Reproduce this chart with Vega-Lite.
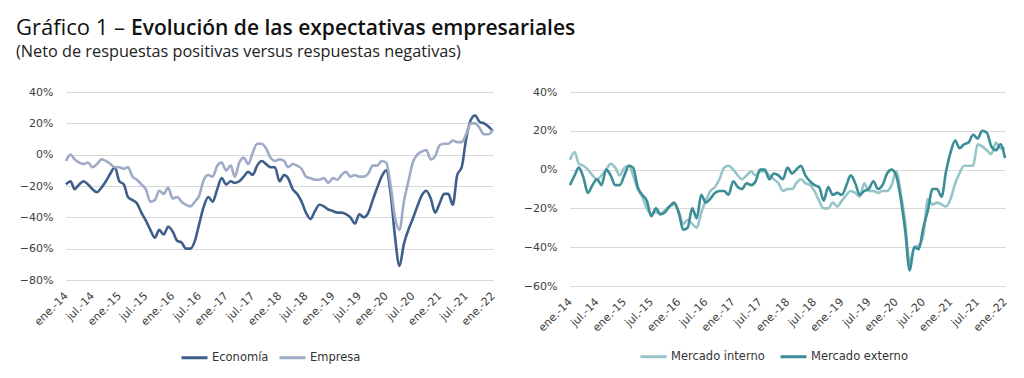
{
"$schema": "https://vega.github.io/schema/vega-lite/v6.json",
"background": "white",
"padding": {"left": 14, "top": 16, "right": 5, "bottom": 5},
"title": {"text": "Evolución de las expectativas empresariales", "anchor": "start", "frame": "bounds", "font": "Open Sans", "fontSize": 21, "fontWeight": 600, "color": "#111111", "offset": 0, "dx": 117, "dy": 22},
"datasets": {"d": [
{"fecha":"2014-01-01","Economía":-19,"Empresa":-4,"Mercado interno":5,"Mercado externo":-8},
{"fecha":"2014-02-01","Economía":-17,"Empresa":0,"Mercado interno":9,"Mercado externo":-3},
{"fecha":"2014-03-01","Economía":-22,"Empresa":-3,"Mercado interno":3,"Mercado externo":1},
{"fecha":"2014-04-01","Economía":-19,"Empresa":-5,"Mercado interno":2,"Mercado externo":-4},
{"fecha":"2014-05-01","Economía":-17,"Empresa":-6,"Mercado interno":0,"Mercado externo":-12},
{"fecha":"2014-06-01","Economía":-19,"Empresa":-5,"Mercado interno":-3,"Mercado externo":-8},
{"fecha":"2014-07-01","Economía":-22,"Empresa":-8,"Mercado interno":-5,"Mercado externo":-5},
{"fecha":"2014-08-01","Economía":-24,"Empresa":-6,"Mercado interno":-3,"Mercado externo":-8},
{"fecha":"2014-09-01","Economía":-21,"Empresa":-3,"Mercado interno":0,"Mercado externo":0},
{"fecha":"2014-10-01","Economía":-17,"Empresa":-4,"Mercado interno":3,"Mercado externo":-3},
{"fecha":"2014-11-01","Economía":-12,"Empresa":-6,"Mercado interno":1,"Mercado externo":-8},
{"fecha":"2014-12-01","Economía":-8,"Empresa":-8,"Mercado interno":-3,"Mercado externo":-8},
{"fecha":"2015-01-01","Economía":-17,"Empresa":-8,"Mercado interno":1,"Mercado externo":-3},
{"fecha":"2015-02-01","Economía":-19,"Empresa":-9,"Mercado interno":2,"Mercado externo":2},
{"fecha":"2015-03-01","Economía":-27,"Empresa":-8,"Mercado interno":-3,"Mercado externo":1},
{"fecha":"2015-04-01","Economía":-29,"Empresa":-14,"Mercado interno":-10,"Mercado externo":-9},
{"fecha":"2015-05-01","Economía":-31,"Empresa":-16,"Mercado interno":-14,"Mercado externo":-13},
{"fecha":"2015-06-01","Economía":-37,"Empresa":-19,"Mercado interno":-20,"Mercado externo":-16},
{"fecha":"2015-07-01","Economía":-42,"Empresa":-22,"Mercado interno":-23,"Mercado externo":-24},
{"fecha":"2015-08-01","Economía":-48,"Empresa":-30,"Mercado interno":-22,"Mercado externo":-20},
{"fecha":"2015-09-01","Economía":-53,"Empresa":-29,"Mercado interno":-23,"Mercado externo":-23},
{"fecha":"2015-10-01","Economía":-48,"Empresa":-23,"Mercado interno":-21,"Mercado externo":-22},
{"fecha":"2015-11-01","Economía":-51,"Empresa":-25,"Mercado interno":-19,"Mercado externo":-19},
{"fecha":"2015-12-01","Economía":-46,"Empresa":-21,"Mercado interno":-18,"Mercado externo":-17},
{"fecha":"2016-01-01","Economía":-49,"Empresa":-28,"Mercado interno":-22,"Mercado externo":-22},
{"fecha":"2016-02-01","Economía":-55,"Empresa":-27,"Mercado interno":-28,"Mercado externo":-31},
{"fecha":"2016-03-01","Economía":-56,"Empresa":-30,"Mercado interno":-26,"Mercado externo":-30},
{"fecha":"2016-04-01","Economía":-60,"Empresa":-32,"Mercado interno":-28,"Mercado externo":-20},
{"fecha":"2016-05-01","Economía":-60,"Empresa":-33,"Mercado interno":-30,"Mercado externo":-25},
{"fecha":"2016-06-01","Economía":-55,"Empresa":-30,"Mercado interno":-22,"Mercado externo":-13},
{"fecha":"2016-07-01","Economía":-44,"Empresa":-26,"Mercado interno":-16,"Mercado externo":-17},
{"fecha":"2016-08-01","Economía":-33,"Empresa":-16,"Mercado interno":-11,"Mercado externo":-15},
{"fecha":"2016-09-01","Economía":-27,"Empresa":-13,"Mercado interno":-9,"Mercado externo":-12},
{"fecha":"2016-10-01","Economía":-30,"Empresa":-14,"Mercado interno":-5,"Mercado externo":-11},
{"fecha":"2016-11-01","Economía":-22,"Empresa":-7,"Mercado interno":1,"Mercado externo":-11},
{"fecha":"2016-12-01","Economía":-15,"Empresa":-5,"Mercado interno":2,"Mercado externo":-13},
{"fecha":"2017-01-01","Economía":-19,"Empresa":-10,"Mercado interno":0,"Mercado externo":-6},
{"fecha":"2017-02-01","Economía":-17,"Empresa":-7,"Mercado interno":-3,"Mercado externo":-9},
{"fecha":"2017-03-01","Economía":-18,"Empresa":-14,"Mercado interno":-5,"Mercado externo":-10},
{"fecha":"2017-04-01","Economía":-17,"Empresa":-5,"Mercado interno":-3,"Mercado externo":-7},
{"fecha":"2017-05-01","Economía":-14,"Empresa":-2,"Mercado interno":-1,"Mercado externo":-8},
{"fecha":"2017-06-01","Economía":-11,"Empresa":-6,"Mercado interno":-3,"Mercado externo":-6},
{"fecha":"2017-07-01","Economía":-13,"Empresa":1,"Mercado interno":-1,"Mercado externo":0},
{"fecha":"2017-08-01","Economía":-7,"Empresa":7,"Mercado interno":-1,"Mercado externo":0},
{"fecha":"2017-09-01","Economía":-4,"Empresa":7,"Mercado interno":-3,"Mercado externo":-5},
{"fecha":"2017-10-01","Economía":-6,"Empresa":4,"Mercado interno":-5,"Mercado externo":-2},
{"fecha":"2017-11-01","Economía":-8,"Empresa":-2,"Mercado interno":-7,"Mercado externo":-3},
{"fecha":"2017-12-01","Economía":-8,"Empresa":-4,"Mercado interno":-11,"Mercado externo":-5},
{"fecha":"2018-01-01","Economía":-17,"Empresa":-3,"Mercado interno":-10,"Mercado externo":1},
{"fecha":"2018-02-01","Economía":-13,"Empresa":-4,"Mercado interno":-10,"Mercado externo":-2},
{"fecha":"2018-03-01","Economía":-15,"Empresa":-8,"Mercado interno":-7,"Mercado externo":0},
{"fecha":"2018-04-01","Economía":-22,"Empresa":-6,"Mercado interno":-5,"Mercado externo":2},
{"fecha":"2018-05-01","Economía":-25,"Empresa":-7,"Mercado interno":-7,"Mercado externo":-3},
{"fecha":"2018-06-01","Economía":-30,"Empresa":-9,"Mercado interno":-8,"Mercado externo":-6},
{"fecha":"2018-07-01","Economía":-37,"Empresa":-14,"Mercado interno":-11,"Mercado externo":-8},
{"fecha":"2018-08-01","Economía":-41,"Empresa":-15,"Mercado interno":-16,"Mercado externo":-9},
{"fecha":"2018-09-01","Economía":-36,"Empresa":-16,"Mercado interno":-20,"Mercado externo":-16},
{"fecha":"2018-10-01","Economía":-32,"Empresa":-16,"Mercado interno":-20,"Mercado externo":-9},
{"fecha":"2018-11-01","Economía":-33,"Empresa":-15,"Mercado interno":-17,"Mercado externo":-13},
{"fecha":"2018-12-01","Economía":-35,"Empresa":-18,"Mercado interno":-19,"Mercado externo":-12},
{"fecha":"2019-01-01","Economía":-36,"Empresa":-15,"Mercado interno":-16,"Mercado externo":-13},
{"fecha":"2019-02-01","Economía":-37,"Empresa":-16,"Mercado interno":-13,"Mercado externo":-8},
{"fecha":"2019-03-01","Economía":-37,"Empresa":-13,"Mercado interno":-11,"Mercado externo":-3},
{"fecha":"2019-04-01","Economía":-38,"Empresa":-11,"Mercado interno":-12,"Mercado externo":-7},
{"fecha":"2019-05-01","Economía":-40,"Empresa":-14,"Mercado interno":-14,"Mercado externo":-13},
{"fecha":"2019-06-01","Economía":-44,"Empresa":-13,"Mercado interno":-7,"Mercado externo":-11},
{"fecha":"2019-07-01","Economía":-38,"Empresa":-14,"Mercado interno":-11,"Mercado externo":-10},
{"fecha":"2019-08-01","Economía":-40,"Empresa":-14,"Mercado interno":-11,"Mercado externo":-6},
{"fecha":"2019-09-01","Economía":-37,"Empresa":-12,"Mercado interno":-12,"Mercado externo":-10},
{"fecha":"2019-10-01","Economía":-29,"Empresa":-7,"Mercado interno":-11,"Mercado externo":-8},
{"fecha":"2019-11-01","Economía":-21,"Empresa":-7,"Mercado interno":-11,"Mercado externo":-2},
{"fecha":"2019-12-01","Economía":-14,"Empresa":-4,"Mercado interno":-8,"Mercado externo":0},
{"fecha":"2020-01-01","Economía":-10,"Empresa":-5,"Mercado interno":-1,"Mercado externo":-3},
{"fecha":"2020-02-01","Economía":-25,"Empresa":-20,"Mercado interno":-12,"Mercado externo":-15},
{"fecha":"2020-03-01","Economía":-52,"Empresa":-40,"Mercado interno":-27,"Mercado externo":-31},
{"fecha":"2020-04-01","Economía":-71,"Empresa":-48,"Mercado interno":-48,"Mercado externo":-52},
{"fecha":"2020-05-01","Economía":-57,"Empresa":-30,"Mercado interno":-40,"Mercado externo":-40},
{"fecha":"2020-06-01","Economía":-48,"Empresa":-17,"Mercado interno":-39,"Mercado externo":-41},
{"fecha":"2020-07-01","Economía":-41,"Empresa":-5,"Mercado interno":-34,"Mercado externo":-30},
{"fecha":"2020-08-01","Economía":-33,"Empresa":0,"Mercado interno":-15,"Mercado externo":-21},
{"fecha":"2020-09-01","Economía":-26,"Empresa":2,"Mercado interno":-18,"Mercado externo":-10},
{"fecha":"2020-10-01","Economía":-23,"Empresa":3,"Mercado interno":-17,"Mercado externo":-10},
{"fecha":"2020-11-01","Economía":-28,"Empresa":-3,"Mercado interno":-18,"Mercado externo":-14},
{"fecha":"2020-12-01","Economía":-37,"Empresa":-1,"Mercado interno":-19,"Mercado externo":-1},
{"fecha":"2021-01-01","Economía":-31,"Empresa":6,"Mercado interno":-15,"Mercado externo":9},
{"fecha":"2021-02-01","Economía":-25,"Empresa":7,"Mercado interno":-7,"Mercado externo":15},
{"fecha":"2021-03-01","Economía":-25,"Empresa":7,"Mercado interno":-2,"Mercado externo":11},
{"fecha":"2021-04-01","Economía":-32,"Empresa":9,"Mercado interno":2,"Mercado externo":13},
{"fecha":"2021-05-01","Economía":-13,"Empresa":8,"Mercado interno":2,"Mercado externo":14},
{"fecha":"2021-06-01","Economía":-8,"Empresa":8,"Mercado interno":2,"Mercado externo":18},
{"fecha":"2021-07-01","Economía":10,"Empresa":13,"Mercado interno":13,"Mercado externo":16},
{"fecha":"2021-08-01","Economía":22,"Empresa":20,"Mercado interno":12,"Mercado externo":20},
{"fecha":"2021-09-01","Economía":25,"Empresa":20,"Mercado interno":10,"Mercado externo":19},
{"fecha":"2021-10-01","Economía":21,"Empresa":17,"Mercado interno":8,"Mercado externo":12},
{"fecha":"2021-11-01","Economía":20,"Empresa":13,"Mercado interno":14,"Mercado externo":10},
{"fecha":"2021-12-01","Economía":18,"Empresa":13,"Mercado interno":11,"Mercado externo":13},
{"fecha":"2022-01-01","Economía":15,"Empresa":16,"Mercado interno":11,"Mercado externo":6}
]},
"config": {
  "view": {"stroke": null},
  "font": "DejaVu Sans",
  "axis": {"labelFont": "DejaVu Sans", "labelFontSize": 11, "labelColor": "#404040", "domain": false, "ticks": false, "tickSize": 0, "title": null, "gridColor": "#d9d9d9", "gridWidth": 1},
  "legend": {"orient": "none", "direction": "horizontal", "title": null, "symbolType": "stroke", "symbolStrokeWidth": 3, "symbolSize": 676, "labelFont": "DejaVu Sans", "labelFontSize": 11.5, "labelColor": "#333333", "columnPadding": 4, "labelOffset": 3, "padding": 0}
},
"vconcat": [
{
"title": {"text": "Gráfico 1 –", "subtitle": "(Neto de respuestas positivas versus respuestas negativas)", "anchor": "start", "frame": "group", "dx": -50, "font": "Open Sans", "fontSize": 22, "fontWeight": "normal", "color": "#111111", "subtitleFont": "Open Sans", "subtitleFontSize": 16.3, "subtitleColor": "#222222", "subtitlePadding": 4, "offset": 25},
"spacing": 24,
"hconcat": [
{
  "width": 427, "height": 188,
  "data": {"name": "d"},
  "transform": [{"fold": ["Economía", "Empresa"], "as": ["serie", "valor"]}],
  "mark": {"type": "line", "strokeWidth": 2.6, "interpolate": "monotone"},
  "encoding": {
    "x": {"field": "fecha", "type": "temporal",
      "scale": {"type": "utc", "domain": [{"year": 2014, "month": 1, "date": 1, "utc": true}, {"year": 2022, "month": 1, "date": 1, "utc": true}], "nice": false},
      "axis": {"grid": false, "tickCount": {"interval": "month", "step": 6}, "labelAngle": -45, "labelAlign": "right", "labelBaseline": "middle", "labelPadding": 14, "labelFlush": false, "labelOverlap": false, "labelBound": false,
        "labelExpr": "(utcmonth(datum.value)==0?'ene.':'jul.')+'-'+utcFormat(datum.value,'%y')"}},
    "y": {"field": "valor", "type": "quantitative",
      "scale": {"domain": [-80, 40], "nice": false},
      "axis": {"values": [-80, -60, -40, -20, 0, 20, 40], "labelPadding": 13, "minExtent": 52, "labelExpr": "format(datum.value/100,'.0%')"}},
    "color": {"field": "serie", "type": "nominal",
      "scale": {"domain": ["Economía", "Empresa"], "range": ["#3e5f8a", "#9eaac6"]},
      "legend": {"legendX": 114, "legendY": 251}}
  }
},
{
  "width": 435, "height": 194,
  "data": {"name": "d"},
  "transform": [{"fold": ["Mercado interno", "Mercado externo"], "as": ["serie", "valor"]}],
  "mark": {"type": "line", "strokeWidth": 2.6, "interpolate": "monotone"},
  "encoding": {
    "x": {"field": "fecha", "type": "temporal",
      "scale": {"type": "utc", "domain": [{"year": 2014, "month": 1, "date": 1, "utc": true}, {"year": 2022, "month": 1, "date": 1, "utc": true}], "nice": false},
      "axis": {"grid": false, "tickCount": {"interval": "month", "step": 6}, "labelAngle": -45, "labelAlign": "right", "labelBaseline": "middle", "labelPadding": 14, "labelFlush": false, "labelOverlap": false, "labelBound": false,
        "labelExpr": "(utcmonth(datum.value)==0?'ene.':'jul.')+'-'+utcFormat(datum.value,'%y')"}},
    "y": {"field": "valor", "type": "quantitative",
      "scale": {"domain": [-60, 40], "nice": false},
      "axis": {"values": [-60, -40, -20, 0, 20, 40], "labelPadding": 13, "labelExpr": "format(datum.value/100,'.0%')"}},
    "color": {"field": "serie", "type": "nominal",
      "scale": {"domain": ["Mercado interno", "Mercado externo"], "range": ["#95c5c8", "#3b8d96"]},
      "legend": {"legendX": 69, "legendY": 250, "columnPadding": 9}}
  }
}
],
"resolve": {"scale": {"color": "independent"}, "legend": {"color": "independent"}}
}
]
}
